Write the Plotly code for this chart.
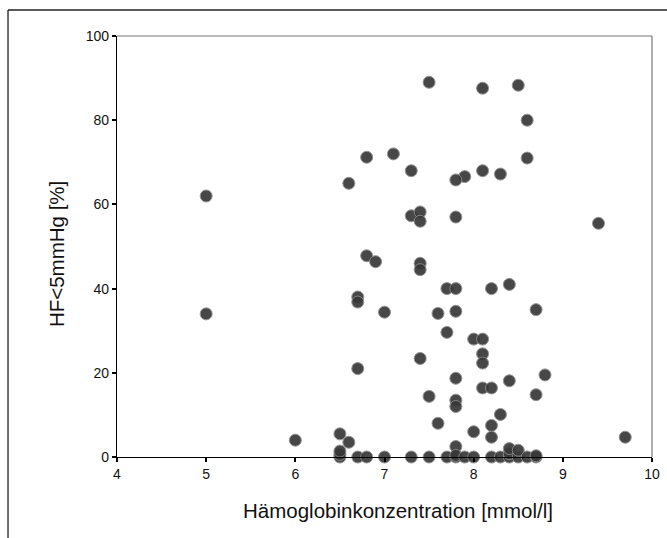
import plotly.graph_objects as go

# Hemoglobin concentration [mmol/l] and share of time with HF < 5 mmHg [%]
hb = [
    5.0, 5.0, 6.0, 6.5, 6.6, 6.6, 6.8, 7.1, 7.3, 7.5,
    8.1, 8.5, 8.6, 8.6, 8.1, 8.3, 7.9, 7.8, 7.3, 7.4,
    7.4, 7.8, 9.4, 6.8, 6.9, 7.4, 7.4, 7.7, 7.8, 8.2,
    8.4, 6.7, 6.7, 7.0, 7.6, 7.8, 8.7, 7.7, 8.0, 8.1,
    8.1, 8.1, 7.4, 6.7, 7.8, 8.4, 8.8, 8.1, 8.2, 8.7,
    7.5, 7.8, 7.8, 8.3, 7.6, 8.2, 8.2, 8.0, 9.7, 7.8,
    6.5, 6.5, 6.5, 6.7, 6.8, 7.0, 7.3, 7.5, 7.7, 7.8,
    7.8, 7.9, 8.0, 8.2, 8.3, 8.4, 8.4, 8.4, 8.5, 8.5,
    8.6, 8.7, 8.7,
]
hf = [
    62.0, 34.0, 4.0, 5.5, 3.5, 65.0, 71.2, 72.0, 68.0, 89.0,
    87.6, 88.3, 80.0, 71.0, 68.0, 67.2, 66.6, 65.8, 57.3, 58.2,
    56.0, 57.0, 55.5, 47.8, 46.4, 46.0, 44.5, 40.0, 40.0, 40.0,
    41.0, 38.0, 36.8, 34.4, 34.1, 34.6, 35.0, 29.6, 28.0, 28.0,
    24.5, 22.3, 23.4, 21.0, 18.7, 18.1, 19.5, 16.4, 16.4, 14.8,
    14.4, 13.5, 12.0, 10.1, 8.0, 7.5, 4.7, 6.0, 4.7, 2.5,
    0.0, 0.6, 1.4, 0.0, 0.0, 0.0, 0.0, 0.0, 0.0, 0.0,
    0.4, 0.0, 0.0, 0.0, 0.0, 0.0, 0.8, 2.0, 0.0, 1.6,
    0.0, 0.0, 0.3,
]

x_ticks = [4, 5, 6, 7, 8, 9, 10]
y_ticks = [0, 20, 40, 60, 80, 100]

x_title = "Hämoglobinkonzentration [mmol/l]"
y_title = "HF<5mmHg [%]"

font_family = "Liberation Sans, Arial, sans-serif"

fig = go.Figure()
fig.add_trace(go.Scatter(
    x=hb, y=hf, mode="markers",
    marker=dict(symbol="circle", size=12, color="#383838",
                opacity=0.92,
                line=dict(color="#8a8a8a", width=1)),
    cliponaxis=False,
    showlegend=False,
))

# gray top and right edges of the plotting box
fig.add_shape(type="line", xref="paper", yref="paper", x0=0, x1=1, y0=1, y1=1,
              line=dict(color="#777777", width=1.2))
fig.add_shape(type="line", xref="paper", yref="paper", x0=1, x1=1, y0=0, y1=1,
              line=dict(color="#777777", width=1.2))
# outer frame (left and top)
fig.add_shape(type="line", xref="paper", yref="paper",
              x0=-0.2037, x1=-0.2037, y0=-0.2, y1=1.0618,
              line=dict(color="#222222", width=1.3))
fig.add_shape(type="line", xref="paper", yref="paper",
              x0=-0.2037, x1=1.05, y0=1.0618, y1=1.0618,
              line=dict(color="#222222", width=1.3))

# axis titles
fig.add_annotation(text=x_title, xref="paper", yref="paper",
                   x=0.525, y=-0.128, xanchor="center", yanchor="middle",
                   showarrow=False, font=dict(size=20.5, family=font_family, color="#111111"))
fig.add_annotation(text=y_title, xref="paper", yref="paper",
                   x=-0.114, y=0.482, xanchor="center", yanchor="middle",
                   textangle=-90, showarrow=False,
                   font=dict(size=20.5, family=font_family, color="#111111"))

fig.update_layout(
    width=667, height=538,
    margin=dict(l=117, r=15, t=36, b=81),
    paper_bgcolor="white", plot_bgcolor="white",
    font=dict(family=font_family, color="#111111"),
    xaxis=dict(
        range=[4, 10], tickvals=x_ticks, ticktext=[str(v) for v in x_ticks],
        showgrid=False, zeroline=False, automargin=False,
        showline=True, linecolor="black", linewidth=1.3,
        ticks="outside", ticklen=4, tickwidth=1.5, tickcolor="black",
        tickfont=dict(size=14, family=font_family),
    ),
    yaxis=dict(
        range=[0, 100], tickvals=y_ticks, ticktext=[str(v) for v in y_ticks],
        showgrid=False, zeroline=False, automargin=False,
        showline=True, linecolor="black", linewidth=1.3,
        ticks="outside", ticklen=4, tickwidth=1.5, tickcolor="black",
        tickfont=dict(size=14, family=font_family),
    ),
)

fig.write_html("out.html")
